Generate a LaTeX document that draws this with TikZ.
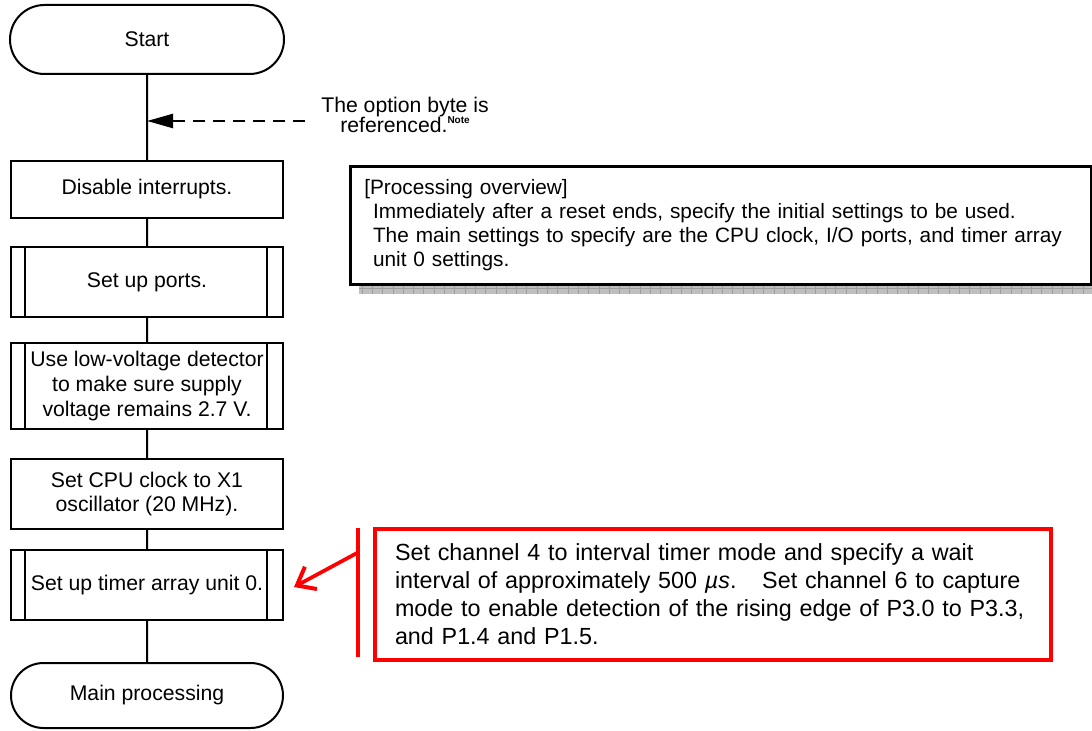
\documentclass[tikz,border=0pt]{standalone}
\usepackage{fontspec}
\setmainfont{Liberation Sans}
\usetikzlibrary{arrows.meta,shapes.misc}
\begin{document}
\begin{tikzpicture}[x=0.75pt,y=-0.75pt,
  flow/.style={line width=1.5pt},
  txt/.style={font=\fontsize{15.9}{18.5}\selectfont},
  box/.style={draw, line width=1.5pt, minimum width=204pt, align=center,
    inner sep=0pt, txt},
  sub/.style={box, path picture={
    \draw[line width=1.5pt]
      ([xshift=10.5pt]path picture bounding box.north west) --
      ([xshift=10.5pt]path picture bounding box.south west)
      ([xshift=-12pt]path picture bounding box.north east) --
      ([xshift=-12pt]path picture bounding box.south east);}},
  terminal/.style={box, rounded rectangle, rounded rectangle arc length=180},
  redline/.style={draw=red, line width=3pt}
]
\useasboundingbox (0,0) rectangle (1092,731);

% flowchart
\node[terminal, minimum width=205.5pt, minimum height=51.75pt] (start) at (147,39.5) {Start};
\node[box, minimum height=42.75pt] (dis) at (147,189.5) {Disable interrupts.};
\node[sub, minimum height=52.5pt] (ports) at (147,282) {Set up ports.};
\node[sub, minimum height=64.5pt] (lvd) at (147,386)
  {Use low-voltage detector\\to make sure supply\\voltage remains 2.7 V.};
\node[box, minimum height=52.5pt] (cpu) at (147,494) {Set CPU clock to X1\\oscillator (20 MHz).};
\node[sub, minimum height=52.5pt] (timer) at (147,585) {Set up timer array unit 0.};
\node[terminal, minimum width=204pt, minimum height=48.75pt] (main) at (147,695.5) {Main processing};

\draw[flow] (start) -- (dis) -- (ports) -- (lvd) -- (cpu) -- (timer) -- (main);

% option byte reference
\coordinate (tap) at (147,121);
\coordinate (noteend) at (305,121);
\draw[line width=1.8pt, dash pattern=on 9pt off 6pt,
  -{Triangle[length=19.5pt,width=10.5pt]}] (noteend) -- (tap);
\node[align=center, inner sep=0pt, font=\fontsize{15.9}{15}\selectfont] (note) at (405,115)
  {The option byte is\\referenced.\raisebox{6.5pt}{\fontsize{7.5}{8}\selectfont\bfseries Note}};

% processing overview with hatched shadow
\fill[gray!50] (359,283) rectangle (1092,294);
\foreach \xx in {362,372.3,...,1092} \draw[gray!75, line width=0.5pt] (\xx,283) -- (\xx,294);
\draw[gray!75, line width=0.5pt] (359,288.5) -- (1092,288.5);
\node[draw, line width=2pt, fill=white, anchor=north west, minimum height=88.5pt,
  text width=534.75pt, inner xsep=10.5pt, inner ysep=0pt, align=left,
  font=\fontsize{15.6}{18}\selectfont] (ov) at (349,165)
  {[Processing overview]\\
   \hspace*{6.5pt}Immediately after a reset ends, specify the initial settings to be used.\\
   \hspace*{6.5pt}The main settings to specify are the CPU clock, I/O ports, and timer array\\
   \hspace*{6.5pt}unit 0 settings.};

% timer array note
\node[redline, anchor=north west, minimum height=98.25pt, text width=477pt,
  inner xsep=15pt, inner ysep=0pt, align=left,
  font=\fontsize{17.5}{21}\selectfont] (tnote) at (373,527)
  {\mbox{Set channel 4 to interval timer mode and specify a wait}\\
   \mbox{interval of approximately 500 \textit{µs}.\hspace{1.1em}Set channel 6 to capture}\\
   \mbox{mode to enable detection of the rising edge of P3.0 to P3.3,}\\
   \mbox{and P1.4 and P1.5.}};
\coordinate (bartop) at (358,528);
\coordinate (barbot) at (358,657);
\draw[red, line width=2.3pt] (bartop) -- (barbot);
\coordinate (rtail) at (357,553);
\draw[red, line width=2.8pt, line cap=round, line join=round,
  -{Straight Barb[length=12pt,width=19pt,line width=3pt]}]
  (rtail) -- ([xshift=7.5pt,yshift=-1.5pt]timer.east);
\end{tikzpicture}
\end{document}
